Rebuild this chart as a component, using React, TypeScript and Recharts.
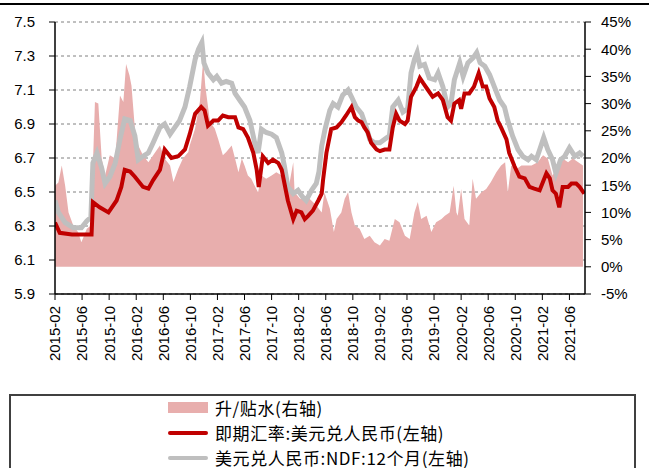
import React from 'react';
import { ComposedChart, Area, Line, XAxis, YAxis, CartesianGrid } from 'recharts';

// x values are months since 2015-02 (0 = 2015-02)
const spotMonths = [0.0, 0.7, 2.5, 5.4, 5.6, 6.6, 7.9, 9.1, 9.8, 10.3, 11.1, 11.8, 13.0, 13.8, 14.5, 15.5, 16.2, 17.2, 18.2, 19.2, 19.9, 20.7, 21.6, 22.1, 22.6, 23.4, 24.1, 24.8, 25.6, 26.6, 27.1, 27.8, 28.5, 29.3, 29.8, 30.1, 30.7, 31.5, 32.2, 33.0, 33.5, 33.9, 34.4, 35.2, 35.7, 36.4, 36.9, 37.4, 38.1, 38.9, 39.4, 39.6, 40.1, 40.8, 41.6, 42.3, 43.0, 43.8, 44.3, 44.8, 45.3, 45.7, 46.2, 46.7, 47.5, 48.0, 48.7, 49.4, 49.9, 50.4, 50.9, 51.7, 52.1, 52.6, 53.4, 53.9, 54.4, 55.1, 55.8, 56.6, 57.3, 58.0, 58.5, 59.0, 59.7, 60.0, 60.5, 61.2, 61.9, 62.6, 63.2, 63.7, 64.2, 64.9, 65.4, 65.9, 66.7, 67.1, 67.9, 68.6, 69.4, 70.1, 70.8, 71.6, 72.1, 72.6, 73.1, 73.5, 74.0, 74.5, 75.0, 75.8, 76.3, 77.0, 77.5, 78.2];
const spotRates = [6.32, 6.26, 6.25, 6.25, 6.44, 6.41, 6.38, 6.45, 6.53, 6.63, 6.62, 6.59, 6.53, 6.52, 6.57, 6.63, 6.75, 6.70, 6.71, 6.75, 6.84, 6.96, 7.00, 6.98, 6.89, 6.92, 6.92, 6.95, 6.94, 6.94, 6.88, 6.87, 6.82, 6.73, 6.63, 6.53, 6.71, 6.67, 6.69, 6.67, 6.63, 6.55, 6.45, 6.34, 6.39, 6.38, 6.34, 6.36, 6.39, 6.45, 6.49, 6.57, 6.73, 6.87, 6.88, 6.91, 6.95, 7.00, 6.94, 6.92, 6.91, 6.88, 6.85, 6.79, 6.75, 6.74, 6.75, 6.75, 6.88, 6.96, 6.92, 6.90, 6.92, 7.06, 7.12, 7.17, 7.14, 7.10, 7.06, 7.08, 7.04, 6.94, 6.92, 7.02, 7.04, 6.99, 7.08, 7.08, 7.12, 7.20, 7.12, 7.12, 7.05, 7.00, 6.92, 6.88, 6.81, 6.73, 6.65, 6.59, 6.58, 6.53, 6.52, 6.51, 6.56, 6.61, 6.58, 6.51, 6.49, 6.41, 6.53, 6.53, 6.55, 6.55, 6.53, 6.49];

const ndfMonths = [0.0, 0.5, 1.5, 2.7, 3.9, 4.7, 5.3, 5.6, 6.2, 6.9, 7.4, 8.1, 8.9, 9.6, 10.3, 11.1, 11.8, 12.3, 13.0, 13.8, 14.5, 15.5, 16.2, 17.0, 17.7, 18.4, 19.2, 19.9, 20.7, 21.2, 21.7, 22.0, 22.6, 23.4, 23.9, 24.6, 25.3, 26.1, 26.6, 27.3, 28.0, 28.8, 29.5, 30.0, 30.5, 31.2, 32.0, 32.7, 33.5, 33.9, 34.4, 35.2, 35.9, 36.6, 37.1, 37.9, 38.6, 39.0, 39.4, 39.9, 40.6, 41.1, 41.8, 42.5, 43.3, 43.8, 44.5, 45.3, 46.0, 46.5, 47.2, 48.0, 48.7, 49.4, 49.9, 50.7, 51.4, 52.1, 52.6, 53.1, 53.5, 53.9, 54.6, 55.3, 56.1, 56.6, 57.3, 58.0, 58.5, 59.0, 59.8, 60.3, 61.0, 61.8, 62.3, 62.8, 63.5, 64.2, 64.9, 65.7, 66.4, 66.9, 67.6, 68.4, 69.1, 69.9, 70.4, 71.1, 71.7, 72.2, 72.8, 73.5, 74.0, 74.7, 75.3, 76.0, 76.8, 77.5, 78.0];
const ndfRates = [6.45, 6.38, 6.32, 6.29, 6.29, 6.33, 6.35, 6.67, 6.73, 6.64, 6.55, 6.59, 6.67, 6.81, 6.93, 6.92, 6.83, 6.69, 6.71, 6.73, 6.79, 6.88, 6.90, 6.84, 6.88, 6.92, 7.00, 7.12, 7.28, 7.34, 7.38, 7.26, 7.20, 7.16, 7.18, 7.14, 7.15, 7.14, 7.08, 7.04, 7.00, 6.92, 6.79, 6.73, 6.87, 6.85, 6.84, 6.82, 6.73, 6.65, 6.53, 6.49, 6.51, 6.47, 6.45, 6.51, 6.55, 6.62, 6.77, 6.87, 6.98, 7.02, 7.00, 7.07, 7.10, 7.06, 7.00, 6.96, 6.88, 6.81, 6.79, 6.79, 6.81, 6.83, 7.00, 7.04, 6.97, 6.99, 7.20, 7.28, 7.32, 7.24, 7.25, 7.17, 7.16, 7.20, 7.12, 7.00, 7.02, 7.16, 7.26, 7.18, 7.26, 7.29, 7.32, 7.26, 7.24, 7.19, 7.12, 7.04, 7.00, 6.92, 6.83, 6.75, 6.71, 6.69, 6.71, 6.69, 6.76, 6.82, 6.75, 6.69, 6.61, 6.69, 6.71, 6.76, 6.71, 6.73, 6.71];

const premiumMonths = [0.0, 0.5, 1.0, 1.5, 2.0, 2.7, 3.4, 3.9, 4.7, 5.3, 5.6, 5.9, 6.4, 6.9, 7.4, 8.1, 8.9, 9.6, 10.1, 10.5, 11.0, 11.3, 11.8, 12.3, 13.0, 13.8, 14.5, 15.5, 16.2, 17.0, 17.5, 18.2, 18.9, 19.7, 19.9, 20.7, 21.4, 21.9, 22.2, 22.9, 23.6, 24.1, 24.8, 25.3, 26.1, 26.6, 27.1, 27.6, 28.0, 28.5, 29.0, 29.5, 30.0, 30.5, 31.2, 32.0, 32.7, 33.5, 33.9, 34.4, 35.2, 35.4, 36.2, 36.9, 37.6, 38.6, 39.4, 39.8, 40.6, 41.2, 41.6, 42.3, 42.8, 43.3, 43.8, 44.3, 45.0, 45.7, 46.5, 47.2, 48.0, 48.7, 49.4, 50.2, 50.9, 51.7, 52.4, 53.1, 53.6, 54.1, 54.9, 55.6, 56.3, 57.1, 57.6, 58.3, 58.9, 59.3, 59.5, 60.0, 60.5, 61.2, 61.7, 62.2, 63.0, 63.7, 64.4, 65.2, 65.9, 66.5, 66.9, 67.4, 68.2, 68.9, 69.6, 70.4, 71.3, 72.1, 72.8, 73.5, 74.4, 75.0, 75.8, 76.5, 77.3, 78.0];
const premiumPct = [14.9, 15.5, 18.6, 14.9, 10.0, 7.6, 6.4, 4.5, 7.0, 7.6, 18.6, 30.3, 30.0, 19.9, 16.8, 20.5, 19.9, 31.5, 30.3, 37.3, 35.2, 33.3, 25.4, 22.3, 20.5, 19.2, 20.5, 22.3, 19.9, 18.6, 15.6, 18.0, 19.9, 21.1, 22.3, 25.4, 30.3, 38.2, 33.3, 26.6, 25.4, 23.5, 20.5, 21.1, 22.3, 19.9, 17.4, 19.9, 18.6, 16.8, 16.2, 14.9, 13.7, 16.8, 16.2, 16.8, 17.4, 16.8, 14.3, 13.7, 19.2, 13.7, 12.5, 12.5, 12.5, 11.3, 10.0, 13.7, 10.7, 6.4, 8.8, 10.0, 12.5, 13.7, 10.0, 7.6, 7.0, 5.1, 5.7, 4.5, 3.9, 5.1, 4.8, 8.8, 8.2, 5.7, 5.1, 10.0, 11.9, 8.8, 9.4, 6.4, 8.2, 8.8, 9.4, 10.0, 14.9, 10.0, 9.4, 14.3, 8.8, 7.6, 16.2, 12.5, 13.7, 14.3, 15.6, 17.4, 18.6, 19.2, 13.7, 18.6, 18.0, 18.6, 18.6, 18.6, 19.2, 20.5, 19.9, 16.8, 18.6, 19.9, 19.2, 19.9, 19.2, 18.6];

const monthTicks = [0, 4, 8, 12, 16, 20, 24, 28, 32, 36, 40, 44, 48, 52, 56, 60, 64, 68, 72, 76];
const leftTicks = [5.9, 6.1, 6.3, 6.5, 6.7, 6.9, 7.1, 7.3, 7.5];
const rightTicks = [-5, 0, 5, 10, 15, 20, 25, 30, 35, 40, 45];

const spotData = spotMonths.map((t, i) => ({ t, v: spotRates[i] }));
const ndfData = ndfMonths.map((t, i) => ({ t, v: ndfRates[i] }));
const premiumData = premiumMonths.map((t, i) => ({ t, v: premiumPct[i] }));

const monthLabel = (t: number) => {
    const m = 1 + Math.round(t);
    const y = 2015 + Math.floor(m / 12);
    const mm = (m % 12) + 1;
    return `${y}-${mm < 10 ? '0' + mm : mm}`;
};

const FONT = '"Liberation Sans", Arial, sans-serif';

const RotatedTick = (props: any) => {
    const { x, y, payload } = props;
    return (
        <g transform={`translate(${x},${y})`}>
            <text x={0} y={0} dy="0.36em" textAnchor="end" transform="rotate(-90)"
                fontSize={15} fill="#000" fontFamily={FONT}>
                {monthLabel(payload.value)}
            </text>
        </g>
    );
};

const legendRow = { display: 'flex', alignItems: 'center', height: 25 } as React.CSSProperties;
const legendText = {
    fontFamily: '"Noto Sans CJK SC", sans-serif', fontSize: 17, lineHeight: '20px', color: '#000',
    letterSpacing: 0.6, marginLeft: 7,
} as React.CSSProperties;

const App: React.FC = () => {
    return (
        <div style={{ position: 'absolute', left: 0, top: 0, width: 649, height: 468, background: '#fff', overflow: 'hidden' }}>
            <div style={{ position: 'absolute', left: 0, top: 3, width: 649, height: 2, background: '#000' }} />
            <div style={{ position: 'absolute', left: 0, top: 0 }}>
                <ComposedChart width={649} height={380} margin={{ top: 22, right: 0, left: 0, bottom: 0 }}>
                    <CartesianGrid yAxisId="left" vertical={false} stroke="#808080" strokeDasharray="3 3" />
                    <XAxis dataKey="t" type="number" domain={[0, 78.3]} ticks={monthTicks} interval={0}
                        height={86} tickSize={6} tickMargin={6} tick={<RotatedTick />}
                        axisLine={{ stroke: '#000', strokeWidth: 1.5 }} tickLine={{ stroke: '#000' }} allowDataOverflow />
                    <YAxis yAxisId="left" orientation="left" domain={[5.9, 7.5]} ticks={leftTicks} width={55}
                        tickSize={6} tickMargin={14} tickFormatter={(v: number) => v.toFixed(1)}
                        tick={{ fontSize: 15, fill: '#000', fontFamily: FONT }}
                        axisLine={{ stroke: '#000', strokeWidth: 1.5 }} tickLine={{ stroke: '#000' }} allowDataOverflow />
                    <YAxis yAxisId="right" orientation="right" domain={[-5, 45]} ticks={rightTicks} width={64}
                        tickSize={6} tickMargin={10} tickFormatter={(v: number) => `${v}%`}
                        tick={{ fontSize: 15, fill: '#000', fontFamily: FONT, textAnchor: 'start' }}
                        axisLine={{ stroke: '#000', strokeWidth: 1.5 }} tickLine={{ stroke: '#000' }} allowDataOverflow />
                    <Area yAxisId="right" data={premiumData} dataKey="v" type="linear" baseValue={0}
                        stroke="none" fill="#E8AEAD" fillOpacity={1} isAnimationActive={false} />
                    <Line yAxisId="left" data={ndfData} dataKey="v" type="linear" stroke="#BFBFBF"
                        strokeWidth={5} dot={false} isAnimationActive={false} />
                    <Line yAxisId="left" data={spotData} dataKey="v" type="linear" stroke="#C00000"
                        strokeWidth={4} dot={false} isAnimationActive={false} />
                </ComposedChart>
            </div>
            <div style={{
                position: 'absolute', left: 9, top: 394, width: 623, height: 80,
                borderTop: '2px solid #404040', borderLeft: '2px solid #404040', borderRight: '2px solid #404040',
            }} />
            <div style={{ position: 'absolute', left: 168, top: 395 }}>
                <div style={legendRow}>
                    <div style={{ width: 40, height: 11, background: '#E8AEAD' }} />
                    <span style={legendText}>升/贴水(右轴)</span>
                </div>
                <div style={legendRow}>
                    <div style={{ width: 40, height: 4, borderRadius: 2, background: '#C00000' }} />
                    <span style={legendText}>即期汇率:美元兑人民币(左轴)</span>
                </div>
                <div style={legendRow}>
                    <div style={{ width: 40, height: 4, borderRadius: 2, background: '#BFBFBF' }} />
                    <span style={legendText}>美元兑人民币:NDF:12个月(左轴)</span>
                </div>
            </div>
        </div>
    );
};

export default App;
